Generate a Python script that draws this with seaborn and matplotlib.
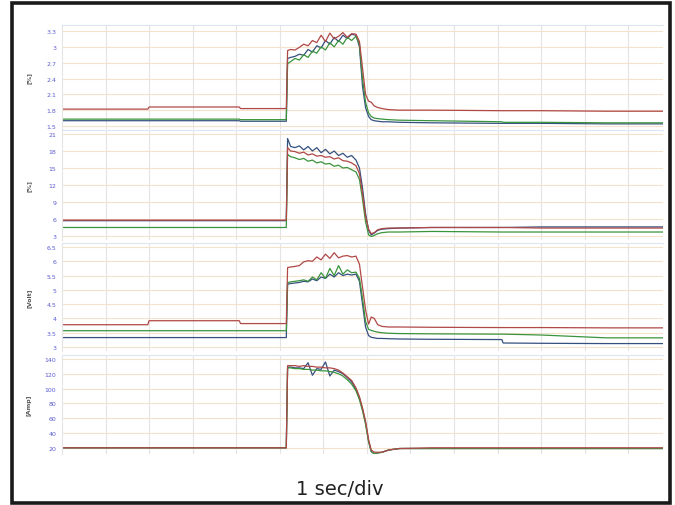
import matplotlib
matplotlib.use("Agg")
import numpy as np
import pandas as pd
import seaborn as sns
import matplotlib.pyplot as plt
from matplotlib.patches import Rectangle

sns.set_style("white")
plt.rcParams["font.family"] = ["DejaVu Sans"]

# Shared time base in seconds (1 s per grid division)
t = [0.0, 1.97, 2.0, 4.07, 4.1, 5.15,
     5.18, 5.25, 5.35, 5.45, 5.55, 5.65, 5.75, 5.85, 5.95, 6.05, 6.15, 6.25, 6.35,
     6.45, 6.55, 6.65, 6.75, 6.83, 6.90, 6.97, 7.04, 7.10, 7.17, 7.25, 7.35, 7.5, 7.75,
     8.5, 10.1, 10.13, 11.0, 12.5, 13.8]

# Panel 1 [%]
p1_red = [1.82, 1.82, 1.86, 1.86, 1.83, 1.83,
          2.93, 2.95, 2.94, 2.99, 3.05, 3.02, 3.12, 3.08, 3.22, 3.10, 3.26, 3.15, 3.20,
          3.27, 3.18, 3.25, 3.24, 3.10, 2.60, 2.10, 1.97, 1.95, 1.88, 1.85, 1.83, 1.81, 1.80,
          1.80, 1.79, 1.79, 1.79, 1.78, 1.78]
p1_green = [1.63, 1.63, 1.63, 1.63, 1.62, 1.62,
            2.68, 2.72, 2.78, 2.75, 2.85, 2.80, 2.92, 2.88, 3.00, 2.94, 3.08, 3.00, 3.12,
            3.05, 3.18, 3.12, 3.20, 3.05, 2.40, 1.95, 1.75, 1.68, 1.65, 1.64, 1.63, 1.62, 1.61,
            1.60, 1.58, 1.57, 1.57, 1.56, 1.56]
p1_blue = [1.60, 1.60, 1.60, 1.60, 1.59, 1.59,
           2.78, 2.80, 2.82, 2.86, 2.84, 2.95, 2.90, 3.02, 2.98, 3.12, 3.05, 3.18, 3.10,
           3.22, 3.16, 3.24, 3.22, 3.00, 2.25, 1.85, 1.68, 1.62, 1.60, 1.59, 1.58, 1.58, 1.57,
           1.56, 1.55, 1.55, 1.55, 1.54, 1.54]

# Panel 2 [%]
p2_red = [5.8, 5.8, 5.8, 5.8, 5.8, 5.8,
          18.6, 18.0, 17.9, 17.6, 17.8, 17.3, 17.5, 17.1, 17.2, 16.9, 17.0, 16.6, 16.8,
          16.3, 16.2, 15.9, 15.4, 14.0, 10.5, 6.5, 4.2, 3.4, 3.6, 4.1, 4.3, 4.4, 4.4,
          4.5, 4.5, 4.5, 4.4, 4.4, 4.4]
p2_green = [4.5, 4.5, 4.5, 4.5, 4.5, 4.5,
            17.4, 17.0, 16.8, 16.5, 16.7, 16.2, 16.4, 15.9, 16.1, 15.7, 15.8, 15.3, 15.5,
            15.0, 15.1, 14.7, 14.3, 13.0, 9.5, 5.5, 3.2, 2.9, 3.1, 3.4, 3.6, 3.7, 3.7,
            3.8, 3.7, 3.7, 3.7, 3.7, 3.7]
p2_blue = [5.7, 5.7, 5.7, 5.7, 5.7, 5.7,
           20.2, 18.8, 18.6, 18.9, 18.2, 18.8, 18.0, 18.6, 17.7, 18.3, 17.5, 18.0, 17.2,
           17.6, 16.9, 17.2, 16.4, 15.0, 11.5, 7.0, 4.0, 3.2, 3.5, 4.0, 4.2, 4.3, 4.4,
           4.5, 4.5, 4.5, 4.6, 4.6, 4.6]

# Panel 3 [Volt]
p3_red = [3.78, 3.78, 3.92, 3.92, 3.82, 3.82,
          5.78, 5.80, 5.82, 5.85, 5.98, 6.02, 6.00, 6.15, 6.05, 6.25, 6.10, 6.30, 6.12,
          6.18, 6.20, 6.15, 6.18, 5.90, 5.10, 4.30, 3.80, 4.05, 4.00, 3.78, 3.72, 3.70, 3.70,
          3.69, 3.68, 3.68, 3.68, 3.67, 3.67]
p3_green = [3.57, 3.57, 3.57, 3.57, 3.57, 3.57,
            5.25, 5.28, 5.30, 5.32, 5.35, 5.30, 5.45, 5.35, 5.60, 5.40, 5.75, 5.50, 5.85,
            5.55, 5.70, 5.60, 5.62, 5.40, 4.70, 3.90, 3.62, 3.58, 3.55, 3.52, 3.50, 3.48, 3.47,
            3.46, 3.45, 3.45, 3.42, 3.32, 3.32]
p3_blue = [3.33, 3.33, 3.33, 3.33, 3.33, 3.33,
           5.20, 5.22, 5.24, 5.26, 5.30, 5.28, 5.38, 5.32, 5.45, 5.40, 5.55, 5.45, 5.60,
           5.50, 5.55, 5.52, 5.55, 5.30, 4.50, 3.70, 3.40, 3.34, 3.32, 3.30, 3.30, 3.29, 3.28,
           3.27, 3.26, 3.14, 3.13, 3.12, 3.12]

# Panel 4 [Amp]
p4_red = [20, 20, 20, 20, 20, 20,
          131, 131, 131, 130, 131, 130, 130, 129, 129, 128, 128, 127, 125,
          121, 116, 111, 101, 89, 74, 56, 31, 17, 14, 14, 14, 17, 19,
          20, 20, 20, 20, 20, 20]
p4_green = [20, 20, 20, 20, 20, 20,
            128, 128, 127, 127, 126, 126, 125, 125, 124, 124, 123, 122, 120,
            117, 112, 106, 97, 85, 70, 52, 28, 15, 12, 13, 14, 17, 19,
            19, 19, 19, 19, 19, 19]
p4_blue = [20, 20, 20, 20, 20, 20,
           129, 129, 128, 128, 127, 135, 118, 127, 126, 136, 117, 125, 123,
           120, 115, 109, 99, 87, 72, 54, 29, 15, 12, 13, 14, 17, 19,
           19, 19, 19, 19, 19, 19]

series_names = ["blue", "green", "red"]
palette = {"blue": "#35507f", "green": "#3a943c", "red": "#b04846"}

panels = [
    dict(vals=[p1_blue, p1_green, p1_red], ticks=[1.5, 1.8, 2.1, 2.4, 2.7, 3, 3.3],
         labels=["1.5", "1.8", "2.1", "2.4", "2.7", "3", "3.3"], ylim=(1.443, 3.414),
         ylabel="[%]", top=26, bottom=130),
    dict(vals=[p2_blue, p2_green, p2_red], ticks=[3, 6, 9, 12, 15, 18, 21],
         labels=["3", "6", "9", "12", "15", "18", "21"], ylim=(2.29, 21.71),
         ylabel="[%]", top=131, bottom=241),
    dict(vals=[p3_blue, p3_green, p3_red], ticks=[3, 3.5, 4, 4.5, 5, 5.5, 6, 6.5],
         labels=["3", "3.5", "4", "4.5", "5", "5.5", "6", "6.5"], ylim=(2.86, 6.64),
         ylabel="[Volt]", top=244, bottom=352),
    dict(vals=[p4_blue, p4_green, p4_red], ticks=[20, 40, 60, 80, 100, 120, 140],
         labels=["20", "40", "60", "80", "100", "120", "140"], ylim=(11.6, 145.4),
         ylabel="[Amp]", top=356, bottom=455),
]

W, H = 675, 506
fig = plt.figure(figsize=(W / 100, H / 100), dpi=100)
fig.patch.set_facecolor("white")

x_left, x_right = 62, 663
for p in panels:
    ax = fig.add_axes([x_left / W, 1 - p["bottom"] / H,
                       (x_right - x_left) / W, (p["bottom"] - p["top"]) / H])
    df = pd.DataFrame({
        "t": np.tile(t, len(series_names)),
        "value": np.concatenate([np.asarray(v, dtype=float) for v in p["vals"]]),
        "series": np.repeat(series_names, len(t)),
    })
    sns.lineplot(data=df, x="t", y="value", hue="series", hue_order=series_names,
                 palette=palette, estimator=None, legend=False, linewidth=0.9, ax=ax)
    ax.set_xlim(0, 13.8)
    ax.set_ylim(*p["ylim"])
    ax.set_yticks(p["ticks"])
    ax.set_yticklabels(p["labels"])
    ax.set_xticks(range(1, 14))
    ax.tick_params(axis="x", labelbottom=False, length=0)
    ax.tick_params(axis="y", length=0, pad=4, labelsize=4.5, labelcolor="#5c5cd0")
    ax.set_axisbelow(True)
    ax.grid(True, axis="y", color="#f4e3cc", linewidth=0.8)
    ax.grid(True, axis="x", color="#e4e4e4", linewidth=0.8)
    ax.set_xlabel("")
    ax.set_ylabel("")
    for side in ["right", "bottom"]:
        ax.spines[side].set_visible(False)
    ax.spines["top"].set_color("#dce6f2")
    ax.spines["top"].set_linewidth(0.8)
    ax.spines["left"].set_color("#e4e4e4")
    ax.spines["left"].set_linewidth(0.8)
    fig.text(29 / W, 1 - (p["top"] + p["bottom"]) / 2 / H, p["ylabel"], rotation=90,
             ha="center", va="center", fontsize=4.5, color="#555555", fontweight="bold")

fig.text(340 / W, 1 - 490 / H, "1 sec/div", ha="center", va="center",
         fontsize=14, color="#222222")

fig.patches.append(Rectangle((12 / W, 1 - 504 / H), (670 - 12) / W, (504 - 4.3) / H,
                             transform=fig.transFigure, fill=False,
                             edgecolor="#1a1a1a", linewidth=2.6))

fig.savefig("out.png", dpi=100)
